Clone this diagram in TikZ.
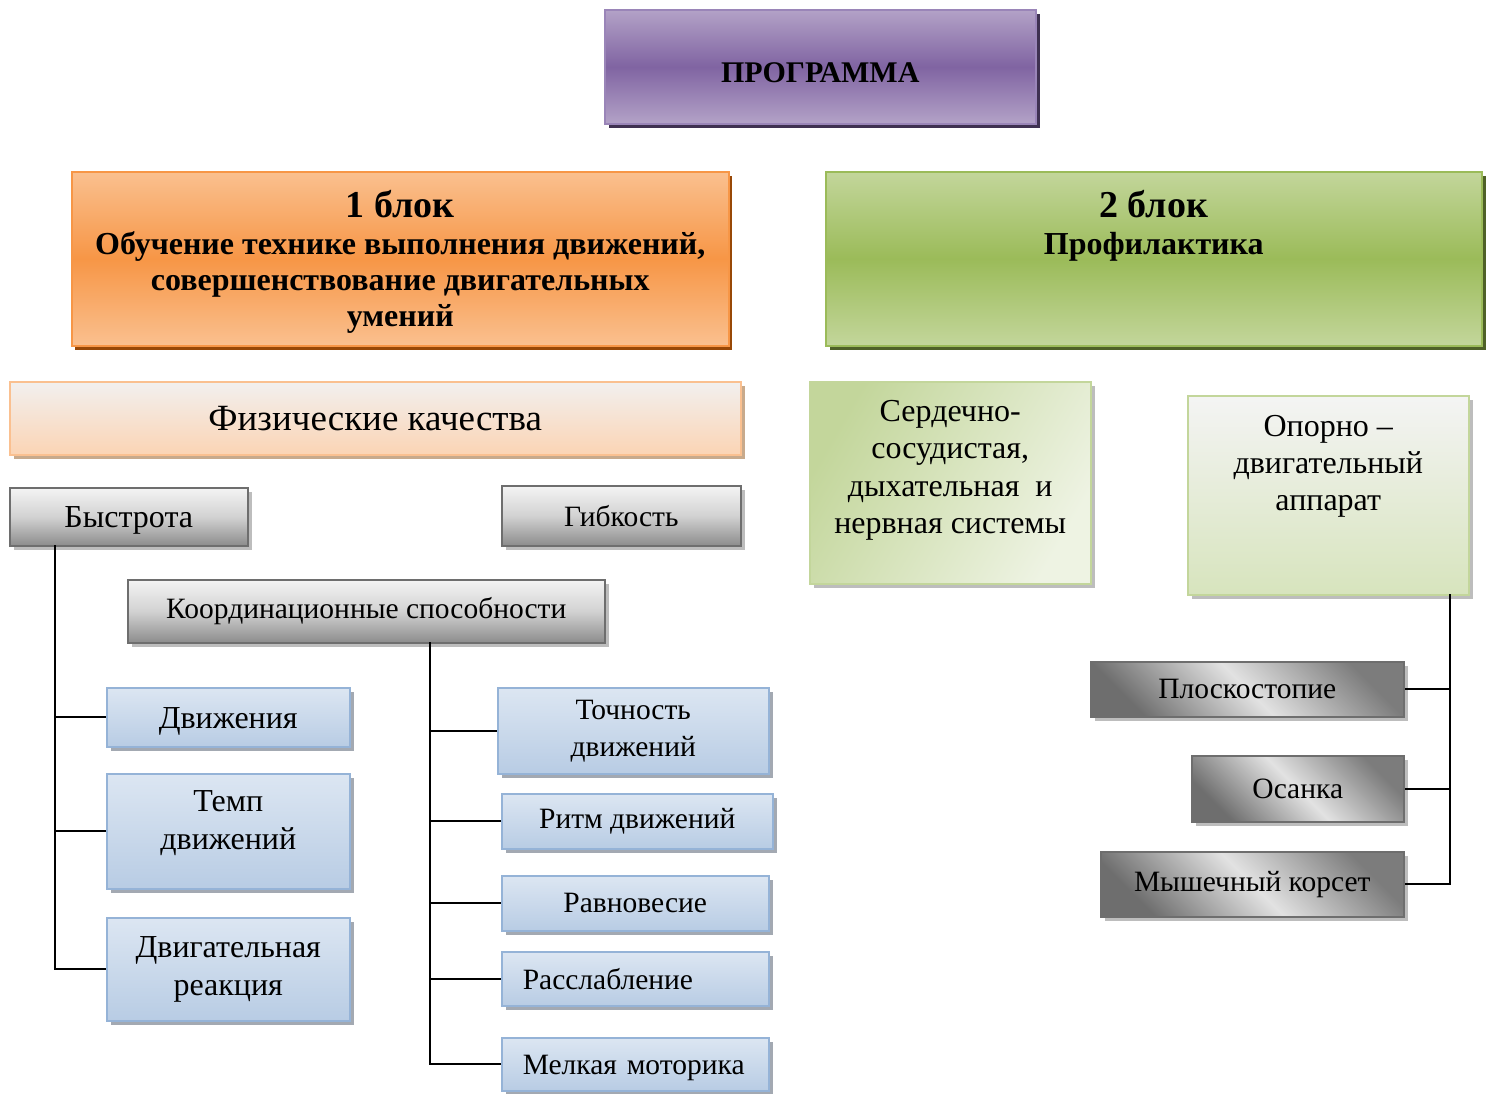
\documentclass[tikz,border=0pt]{standalone}
\usepackage{fontspec}
\setmainfont{Liberation Serif}
\usetikzlibrary{shadows}
\definecolor{purL}{HTML}{B3A2C7}
\definecolor{purM}{HTML}{8064A2}
\definecolor{purB}{HTML}{9A85B8}
\definecolor{purS}{HTML}{3F3151}
\definecolor{orL}{HTML}{FAC08F}
\definecolor{orM}{HTML}{F79646}
\definecolor{orS}{HTML}{984807}
\definecolor{grL}{HTML}{C3D69B}
\definecolor{grM}{HTML}{9BBB59}
\definecolor{grS}{HTML}{4F6128}
\definecolor{peT}{HTML}{F2F0EF}
\definecolor{peB}{HTML}{FBD4B4}
\definecolor{peD}{HTML}{FAC090}
\definecolor{peS}{HTML}{C8AA8C}
\definecolor{gyT}{HTML}{F4F4F4}
\definecolor{gyM}{HTML}{D2D2D2}
\definecolor{gyB}{HTML}{8C8C8C}
\definecolor{gyD}{HTML}{6E6E6E}
\definecolor{gyR}{HTML}{7C7C7C}
\definecolor{gyC}{HTML}{E2E2E2}
\definecolor{gyS}{HTML}{BDBDBD}
\definecolor{blT}{HTML}{DCE6F2}
\definecolor{blB}{HTML}{B8CCE4}
\definecolor{blD}{HTML}{95B3D7}
\definecolor{blS}{HTML}{A3A9B2}
\definecolor{lgT}{HTML}{EEF3E3}
\definecolor{lgB}{HTML}{D7E4BD}
\begin{document}
\begin{tikzpicture}[x=1pt,y=-1pt,
  fs/.style={font=\fontsize{29.5}{37}\selectfont},
  fb/.style={font=\fontsize{32}{38}\selectfont},
  box/.style={draw, line width=1.5pt, inner sep=0pt, anchor=north west, align=center, fs},
  toplab/.style={anchor=north, align=center, inner sep=0pt},
  purplebox/.style={box, draw=purB, top color=purL, bottom color=purL, middle color=purM,
    drop shadow={shadow xshift=4pt, shadow yshift=-4pt, fill=purS, opacity=1}},
  orangebox/.style={box, draw=orM, top color=orL, bottom color=orL, middle color=orM,
    drop shadow={shadow xshift=3pt, shadow yshift=-4pt, fill=orS, opacity=1}},
  greenbox/.style={box, draw=grM, top color=grL, bottom color=grL, middle color=grM,
    drop shadow={shadow xshift=4pt, shadow yshift=-4pt, fill=grS, opacity=1}},
  peachbox/.style={box, draw=peD, top color=peT, bottom color=peB,
    drop shadow={shadow xshift=4pt, shadow yshift=-4pt, fill=peS, opacity=1}},
  graybox/.style={box, draw=gyD, top color=gyT, bottom color=gyB, middle color=gyM,
    drop shadow={shadow xshift=4pt, shadow yshift=-4pt, fill=gyS, opacity=1}},
  bluebox/.style={box, draw=blD, top color=blT, bottom color=blB,
    drop shadow={shadow xshift=4pt, shadow yshift=-4pt, fill=blS, opacity=1}},
  diagbox/.style={box, draw=gyD, left color=gyD, right color=gyR, middle color=gyC,
    shading angle=135,
    drop shadow={shadow xshift=4pt, shadow yshift=-4pt, fill=gyS, opacity=1}},
  cardbox/.style={box, draw=grL, left color=grL, right color=lgT, shading angle=60,
    drop shadow={shadow xshift=4pt, shadow yshift=-4pt, fill=gyS, opacity=1}},
  oporbox/.style={box, draw=grL, top color=gyT, bottom color=lgB,
    drop shadow={shadow xshift=4pt, shadow yshift=-4pt, fill=gyS, opacity=1}},
  conn/.style={draw=black, line width=1.6pt}
]
\useasboundingbox (0,0) rectangle (1493,1093);

% top
\node[purplebox, minimum width=431pt, minimum height=114pt,
  label={[anchor=center, inner sep=0pt, yshift=-6pt, font=\bfseries\fontsize{30}{36}\selectfont]center:ПРОГРАММА}] (prog) at (604,9) {};

% block 1
\node[orangebox, minimum width=657pt, minimum height=174pt,
  label={[toplab, yshift=-19pt, font=\bfseries\fontsize{32}{36}\selectfont]north:{{\fontsize{38}{40}\selectfont 1 блок}\\[1pt]Обучение технике выполнения движений,\\совершенствование двигательных\\умений}}] (b1) at (71,171) {};

% block 2
\node[greenbox, minimum width=656pt, minimum height=174pt,
  label={[toplab, yshift=-19pt, font=\bfseries\fontsize{32}{36}\selectfont]north:{{\fontsize{38}{40}\selectfont 2 блок}\\[1pt]Профилактика}}] (b2) at (825,171) {};

% physical qualities
\node[peachbox, minimum width=731pt, minimum height=73pt,
  font=\fontsize{37}{40}\selectfont] (fiz) at (9,381) {Физические качества};

\node[graybox, fb, minimum width=238pt, minimum height=58pt, text height=25pt, text depth=3pt] (bys) at (9,487) {Быстрота};
\node[graybox, minimum width=239pt, minimum height=60pt] (gib) at (501,485) {Гибкость};
\node[graybox, minimum width=477pt, minimum height=63pt] (koord) at (127,579) {Координационные способности};

\node[bluebox, fb, minimum width=243pt, minimum height=59pt, text height=25pt, text depth=3pt] (dv) at (106,687) {Движения};
\node[bluebox, minimum width=243pt, minimum height=115pt,
  label={[anchor=center, inner sep=0pt, yshift=8pt, align=center, fb]center:{Темп\\движений}}] (temp) at (106,773) {};
\node[bluebox, fb, minimum width=243pt, minimum height=103pt] (reak) at (106,917) {Двигательная\\реакция};

\node[bluebox, minimum width=271pt, minimum height=86pt] (toch) at (497,687) {Точность\\движений};
\node[bluebox, minimum width=271pt, minimum height=55pt] (ritm) at (501,793) {Ритм движений};
\node[bluebox, minimum width=267pt, minimum height=55pt] (ravn) at (501,875) {Равновесие};
\node[bluebox, minimum width=267pt, minimum height=54pt, align=left, text width=225pt] (rassl) at (501,951) {Расслабление};
\node[bluebox, minimum width=267pt, minimum height=53pt, align=left, text width=225pt, text height=24pt, text depth=3pt] (melk) at (501,1037) {Мелкая моторика};

% block 2 children
\node[cardbox, minimum width=281pt, minimum height=202pt,
  label={[toplab, yshift=-19pt, font=\fontsize{32}{37.5}\selectfont]north:{Сердечно-\\сосудистая,\\дыхательная~~и\\нервная системы}}] (serd) at (809,381) {};
\node[oporbox, minimum width=281pt, minimum height=199pt,
  label={[toplab, yshift=-20pt, font=\fontsize{32}{37}\selectfont]north:{Опорно –\\двигательный\\аппарат}}] (opor) at (1187,395) {};

\node[diagbox, minimum width=313pt, minimum height=55pt] (plos) at (1090,661) {Плоскостопие};
\node[diagbox, minimum width=212pt, minimum height=66pt] (osan) at (1191,755) {Осанка};
\node[diagbox, minimum width=303pt, minimum height=65pt] (mysh) at (1100,851) {Мышечный корсет};

% connectors left
\coordinate (t1) at (55,545);
\draw[conn] (t1) |- (reak.west);
\draw[conn] (t1 |- dv.west) -- (dv.west);
\draw[conn] (t1 |- temp.west) -- (temp.west);

\coordinate (t2) at (430,642);
\draw[conn] (t2) |- (melk.west);
\draw[conn] (t2 |- toch.west) -- (toch.west);
\draw[conn] (t2 |- ritm.west) -- (ritm.west);
\draw[conn] (t2 |- ravn.west) -- (ravn.west);
\draw[conn] (t2 |- rassl.west) -- (rassl.west);

% connectors right
\coordinate (t3) at (1450,594);
\draw[conn] (t3) |- (mysh.east);
\draw[conn] (t3 |- plos.east) -- (plos.east);
\draw[conn] (t3 |- osan.east) -- (osan.east);
\end{tikzpicture}
\end{document}
